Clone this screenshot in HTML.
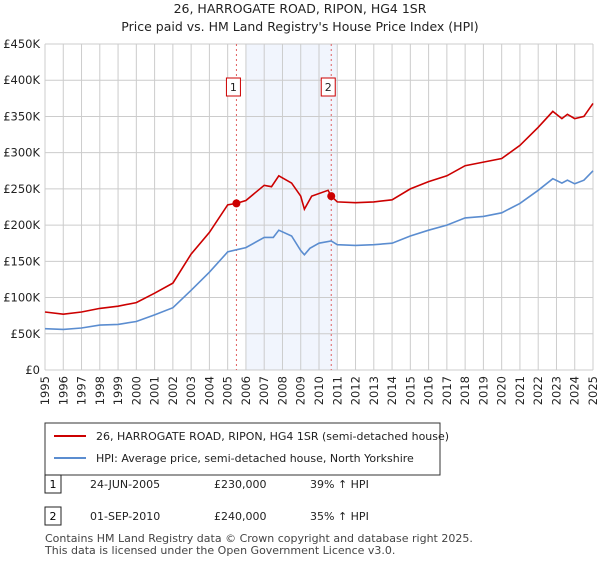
<!DOCTYPE html>
<html><head><meta charset="utf-8"><style>
body{margin:0;background:#fff;font-family:"Liberation Sans","DejaVu Sans",sans-serif;}
svg text{font-family:"DejaVu Sans","Liberation Sans",sans-serif;}
</style></head><body>
<svg width="600" height="560">
<text x="300" y="13" font-size="12.5" text-anchor="middle" fill="#222">26, HARROGATE ROAD, RIPON, HG4 1SR</text>
<text x="300" y="31" font-size="12.5" text-anchor="middle" fill="#222">Price paid vs. HM Land Registry's House Price Index (HPI)</text>
<g id="plot"></g>
<rect x="45" y="423" width="395" height="52" fill="#fff" stroke="#333"/>
<line x1="54" y1="436" x2="86" y2="436" stroke="#cc0000" stroke-width="2"/>
<text x="96" y="440" font-size="11" fill="#222">26, HARROGATE ROAD, RIPON, HG4 1SR (semi-detached house)</text>
<line x1="54" y1="458" x2="86" y2="458" stroke="#5b8dd0" stroke-width="2"/>
<text x="96" y="462" font-size="11" fill="#222">HPI: Average price, semi-detached house, North Yorkshire</text>
<rect x="45" y="475" width="16" height="18" fill="#fff" stroke="#222"/>
<text x="53" y="488" font-size="11" text-anchor="middle">1</text>
<text x="90" y="488" font-size="11" fill="#222">24-JUN-2005</text>
<text x="214" y="488" font-size="11" fill="#222">£230,000</text>
<text x="310" y="488" font-size="11" fill="#222">39% ↑ HPI</text>
<rect x="45" y="507" width="16" height="18" fill="#fff" stroke="#222"/>
<text x="53" y="520" font-size="11" text-anchor="middle">2</text>
<text x="90" y="520" font-size="11" fill="#222">01-SEP-2010</text>
<text x="214" y="520" font-size="11" fill="#222">£240,000</text>
<text x="310" y="520" font-size="11" fill="#222">35% ↑ HPI</text>
<text x="45" y="542" font-size="11" fill="#444">Contains HM Land Registry data © Crown copyright and database right 2025.</text>
<text x="45" y="554" font-size="11" fill="#444">This data is licensed under the Open Government Licence v3.0.</text>
</svg>
<script>
const yTicks=[0,50,100,150,200,250,300,350,400,450];
const yLabels=["£0","£50K","£100K","£150K","£200K","£250K","£300K","£350K","£400K","£450K"];
const xYears=[1995,1996,1997,1998,1999,2000,2001,2002,2003,2004,2005,2006,2007,2008,2009,2010,2011,2012,2013,2014,2015,2016,2017,2018,2019,2020,2021,2022,2023,2024,2025];
const hpiT=[1995,1996,1997,1998,1999,2000,2001,2002,2003,2004,2005,2005.5,2006,2007,2007.5,2007.8,2008.5,2009,2009.2,2009.5,2010,2010.67,2011,2012,2013,2014,2015,2016,2017,2018,2019,2020,2021,2022,2022.8,2023.3,2023.6,2024,2024.5,2025];
const hpiV=[57,56,58,62,63,67,76,86,110,135,163,166,169,183,183,193,185,165,159,168,175,178,173,172,173,175,185,193,200,210,212,217,230,248,264,258,262,257,262,275];
const ppT=[1995,1996,1997,1998,1999,2000,2001,2002,2003,2004,2005,2005.48,2006,2007,2007.4,2007.8,2008.5,2009,2009.2,2009.6,2010.5,2010.67,2011,2012,2013,2014,2015,2016,2017,2018,2019,2020,2021,2022,2022.8,2023.3,2023.6,2024,2024.5,2025];
const ppV=[80,77,80,85,88,93,106,120,160,190,228,230,234,255,253,268,258,240,222,240,248,240,232,231,232,235,250,260,268,282,287,292,310,335,357,347,353,347,350,368];
const saleT=[2005.48,2010.67];
const saleV=[230,240];
const shade=[2006,2011];
const X0=45,X1=593,Y0=370,Y1=44;
const sx=t=>X0+(t-1995)/30*(X1-X0);
const sy=v=>Y0-v/450*(Y0-Y1);
const NS="http://www.w3.org/2000/svg";
const g=document.getElementById('plot');
function mk(tag,attrs,parent){const e=document.createElementNS(NS,tag);for(const k in attrs)e.setAttribute(k,attrs[k]);(parent||g).appendChild(e);return e;}
let e=mk('rect',{x:sx(shade[0]),y:Y1,width:sx(shade[1])-sx(shade[0]),height:Y0-Y1,fill:'#eef3fc',opacity:0.8});


xYears.forEach(y=>{const l=mk('line',{x1:sx(y),x2:sx(y),y1:Y1,y2:Y0,stroke:'#cccccc'});


const t=mk('text',{x:0,y:0,'font-size':11.5,fill:'#222','text-anchor':'end',transform:`translate(${sx(y)+4},${Y0+6}) rotate(-90)`});t.textContent=y;

});
yTicks.forEach((v,i)=>{const l=mk('line',{x1:X0,x2:X1,y1:sy(v),y2:sy(v),stroke:'#cccccc'});


const t=mk('text',{x:X0-5,y:sy(v)+4,'font-size':11.5,fill:'#222','text-anchor':'end'});t.textContent=yLabels[i];

});
saleT.forEach((t,i)=>{const l=mk('line',{x1:sx(t),x2:sx(t),y1:Y1,y2:Y0,stroke:'#e06060','stroke-dasharray':'2,3'});


const r=mk('rect',{x:sx(t)-10,y:78,width:14,height:18,fill:'#fff',stroke:'#cc0000'});


const tx=mk('text',{x:sx(t)-3,y:91,'font-size':11,'text-anchor':'middle',fill:'#222'});tx.textContent=i+1;

});
function path(T,V){return T.map((t,i)=>(i?'L':'M')+sx(t).toFixed(1)+','+sy(V[i]).toFixed(1)).join('');}
e=mk('path',{d:path(hpiT,hpiV),fill:'none',stroke:'#5b8dd0','stroke-width':1.6});


e=mk('path',{d:path(ppT,ppV),fill:'none',stroke:'#cc0000','stroke-width':1.6});


saleT.forEach((t,i)=>{const c=mk('circle',{cx:sx(t),cy:sy(saleV[i]),r:4,fill:'#cc0000'});

});
</script>
</body></html>
